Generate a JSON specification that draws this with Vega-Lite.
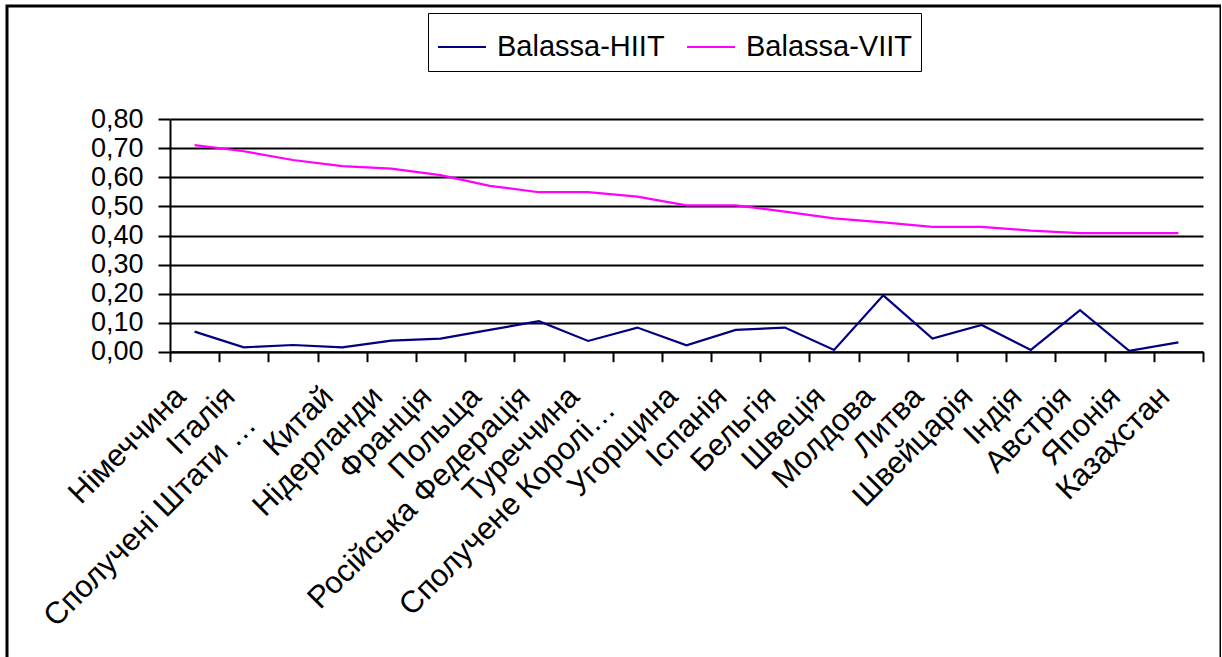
{
  "$schema": "https://vega.github.io/schema/vega-lite/v6.json",
  "autosize": "none",
  "padding": {"left": 7, "top": 6, "right": 0, "bottom": 0},
  "width": 1214,
  "height": 660,
  "background": "white",
  "config": {
    "font": "Liberation Sans",
    "view": {"stroke": "black", "strokeWidth": 3},
    "axis": {"domainColor": "black", "domainWidth": 2, "tickColor": "black", "tickWidth": 2, "labelColor": "black", "gridColor": "black", "gridWidth": 2, "gridOpacity": 1, "domainOpacity": 1, "tickOpacity": 1}
  },
  "data": {
    "values": [
      {"country": "Німеччина", "Balassa-HIIT": 0.069, "Balassa-VIIT": 0.711},
      {"country": "Італія", "Balassa-HIIT": 0.015, "Balassa-VIIT": 0.690},
      {"country": "Сполучені Штати …", "Balassa-HIIT": 0.023, "Balassa-VIIT": 0.660},
      {"country": "Китай", "Balassa-HIIT": 0.015, "Balassa-VIIT": 0.639},
      {"country": "Нідерланди", "Balassa-HIIT": 0.038, "Balassa-VIIT": 0.630},
      {"country": "Франція", "Balassa-HIIT": 0.045, "Balassa-VIIT": 0.608},
      {"country": "Польща", "Balassa-HIIT": 0.075, "Balassa-VIIT": 0.571},
      {"country": "Російська Федерація", "Balassa-HIIT": 0.105, "Balassa-VIIT": 0.549},
      {"country": "Туреччина", "Balassa-HIIT": 0.037, "Balassa-VIIT": 0.549},
      {"country": "Сполучене Королі…", "Balassa-HIIT": 0.083, "Balassa-VIIT": 0.534},
      {"country": "Угорщина", "Balassa-HIIT": 0.022, "Balassa-VIIT": 0.504},
      {"country": "Іспанія", "Balassa-HIIT": 0.075, "Balassa-VIIT": 0.504},
      {"country": "Бельгія", "Balassa-HIIT": 0.083, "Balassa-VIIT": 0.482},
      {"country": "Швеція", "Balassa-HIIT": 0.006, "Balassa-VIIT": 0.459},
      {"country": "Молдова", "Balassa-HIIT": 0.194, "Balassa-VIIT": 0.445},
      {"country": "Литва", "Balassa-HIIT": 0.045, "Balassa-VIIT": 0.430},
      {"country": "Швейцарія", "Balassa-HIIT": 0.092, "Balassa-VIIT": 0.430},
      {"country": "Індія", "Balassa-HIIT": 0.006, "Balassa-VIIT": 0.417},
      {"country": "Австрія", "Balassa-HIIT": 0.143, "Balassa-VIIT": 0.408},
      {"country": "Японія", "Balassa-HIIT": 0.003, "Balassa-VIIT": 0.408},
      {"country": "Казахстан", "Balassa-HIIT": 0.032, "Balassa-VIIT": 0.408}
    ]
  },
  "transform": [{"fold": ["Balassa-HIIT", "Balassa-VIIT"], "as": ["series", "value"]}],
  "mark": {"type": "line", "strokeWidth": 2.2},
  "encoding": {
    "x": {
      "field": "country",
      "type": "nominal",
      "sort": null,
      "scale": {"type": "band", "range": [163, 1196], "paddingInner": 0, "paddingOuter": 0},
      "axis": {
        "title": null,
        "offset": -314.3,
        "tickBand": "extent",
        "tickSize": 10,
        "labelAngle": -45,
        "labelAlign": "right",
        "labelBaseline": "middle",
        "labelFontSize": 31,
        "labelPadding": {"condition": [{"test": "indexof(datum.label, 'Штати') >= 0", "value": 58}, {"test": "indexof(datum.label, 'Королі') >= 0", "value": 43}], "value": 30},
        "labelOffset": {"condition": [{"test": "indexof(datum.label, 'Штати') >= 0", "value": -42}, {"test": "indexof(datum.label, 'Королі') >= 0", "value": -27}], "value": -14},
        "labelOverlap": false,
        "labelLimit": 0,
        "grid": false
      }
    },
    "y": {
      "field": "value",
      "type": "quantitative",
      "scale": {"domain": [0, 0.8], "range": [345.7, 113.3], "nice": false, "zero": true},
      "axis": {
        "title": null,
        "offset": -163,
        "values": [0, 0.1, 0.2, 0.3, 0.4, 0.5, 0.6, 0.7, 0.8],
        "labelExpr": "replace(format(datum.value, '.2f'), '.', ',')",
        "labelFontSize": 27,
        "labelPadding": 15,
        "tickSize": 12,
        "grid": true,
        "labelOverlap": false,
        "labelBaseline": "middle"
      }
    },
    "color": {
      "field": "series",
      "type": "nominal",
      "scale": {"domain": ["Balassa-HIIT", "Balassa-VIIT"], "range": ["#000080", "#FF00FF"]},
      "legend": {
        "title": null,
        "orient": "none",
        "direction": "horizontal",
        "legendX": 421,
        "legendY": 7,
        "symbolType": "stroke",
        "symbolSize": 2304,
        "symbolStrokeWidth": 2,
        "labelFontSize": 29,
        "labelColor": "black",
        "labelOffset": 10,
        "columnPadding": 18,
        "padding": 9,
        "strokeColor": "black",
        "fillColor": "white",
        "labelLimit": 0
      }
    }
  }
}
